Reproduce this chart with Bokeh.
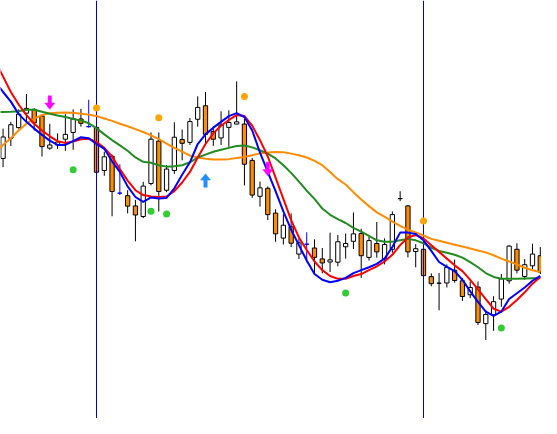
from bokeh.plotting import figure
from bokeh.models import ColumnDataSource, Range1d
from bokeh.embed import file_html
from bokeh.resources import INLINE

# ---- data ----
open_ = [270, 291, 302, 317, 321, 314, 280.7, 284, 290, 297,
         311, 303, 302.3, 257.5, 272.3, 234, 231.3, 220.7, 209.7, 244,
         288, 237, 257.5, 289.7, 286.7, 310.7, 324.7, 298, 291.3, 302.3,
         305.7, 305.7, 268, 230.7, 239, 213.3, 187.3, 199, 170.7, 181,
         177, 165.7, 162.5, 162.3, 178.3, 184, 192, 167.3, 181.7, 165.7,
         175.7, 228.3, 220.7, 173.3, 175.7, 147.3, 140.5, 140.7, 154, 143,
         128.5, 136.5, 98.5, 107.5, 124, 143, 175.7, 147.5, 158.5, 169]
high = [301, 308, 321, 337, 322, 316, 306, 296, 316, 321,
        321.5, 331, 306, 277, 274, 264, 237, 227, 245.7, 297,
        297, 263, 307.5, 300, 312, 334.5, 339, 303, 319, 320,
        350, 311, 270.5, 246, 241, 217.3, 212, 213, 187, 193.3,
        186, 177, 193, 190.5, 192, 214, 197, 189, 204, 187,
        215, 236, 221.5, 181, 177, 150.7, 151, 160, 165, 146,
        142, 142.3, 112.3, 127, 150, 180, 182, 165.5, 181.5, 178]
low = [261, 283, 301, 306, 299, 272, 279, 280, 278, 279,
       303, 302, 255, 252, 210, 232, 213, 184, 208, 242,
       215, 235, 254, 268, 284, 303, 284, 283, 284, 282,
       305.5, 242, 229, 220, 206, 183.5, 180.7, 178, 165.7, 162.3,
       151, 150.7, 152, 158, 166, 176, 146, 164, 167, 160,
       172, 225.7, 167.3, 157, 147, 137.3, 112.3, 136, 141, 122,
       125, 97, 81.5, 91, 116, 140, 150.7, 144, 155, 150]
close = [292.3, 305, 316, 322, 307, 282.3, 284, 287, 295, 311.3,
         306.5, 303, 255.7, 271.7, 235.7, 234, 220.5, 211.3, 241.3, 290,
         235.7, 259, 292, 285.7, 308.3, 323, 295, 290, 304.7, 307.3,
         308, 264, 232, 239.5, 211.7, 191.7, 200.7, 182, 182.3, 181,
         167.3, 161.5, 164.7, 183.5, 181.7, 191.7, 169, 184.7, 173, 180.7,
         211.7, 228.3, 173, 176.3, 148.3, 140, 140.5, 157, 143.3, 126.7,
         136, 99.7, 108, 121.3, 145, 179, 154, 159.7, 170.7, 152]
blue_bars = [11, 15, 39]
session_breaks = [12, 54]

# moving averages, bar index -1 .. 69
ma_index = list(range(-1, 70))
ma_blue = [350, 339, 329, 316, 308, 301, 294.5, 288.5, 284, 284, 288, 292, 291, 285, 280, 267,
           256, 241, 230, 225, 229.5, 228.5, 229, 239, 253, 266, 285, 295, 302, 308, 314, 317,
           313, 299, 276, 256, 236, 215, 196, 180, 164, 150, 144, 141.5, 143, 146, 151, 154,
           157, 160.5, 166, 178, 193, 193, 191.5, 185, 174, 162.5, 157.5, 153, 144, 132, 121,
           111, 106.5, 111, 124, 130, 136, 143, 148]
ma_red = [371, 355, 339, 326, 315, 306, 299, 293, 288, 286, 287.5, 290, 290.5, 287, 281, 272,
          259, 247, 237, 232, 230.5, 230, 230.5, 236, 245, 256, 271, 285, 296, 304, 310, 315,
          314, 304, 289, 272, 250, 228, 206, 188, 175, 163, 154, 148, 145, 145, 148, 150, 154,
          158, 163, 170, 180, 188, 190.5, 187, 180, 173, 166, 159, 153, 144, 134, 124, 114,
          111, 116, 123, 131, 140, 147]
ma_green = [318.3, 318.3, 318.5, 319, 320.5, 320.5, 318.5, 316.5, 314.5, 313, 311, 309.5, 306.5,
            301.5, 295, 289, 283.5, 278, 271, 266.5, 265.5, 263, 261.5, 262, 263, 266, 271, 274,
            277, 279, 281, 283, 283.5, 281.5, 278.5, 275, 270, 263, 255, 246, 236.5, 228, 218,
            211.5, 207, 203, 198, 194, 189.5, 185, 183.5, 183.5, 185, 186.5, 185, 182, 177.3,
            174, 172, 170, 167, 162.3, 157, 151, 147, 145, 145, 145, 145.3, 145.5, 145.7]
ma_orange = [276, 284, 291, 299, 306, 311.5, 315, 317, 317.5, 317.7, 317.5, 316.5, 315.5, 314,
             311.5, 309, 306, 303.5, 300.5, 297.5, 294, 290, 285.5, 281, 277, 273, 271, 269.7,
             269, 269, 269.3, 270.5, 271.5, 273.3, 275.3, 276.3, 276.7, 276.5, 275, 273.3, 271,
             267.5, 263, 256, 248.5, 243, 235, 227.3, 220.5, 214, 209.5, 204.5, 200, 196, 193.3,
             190, 186.5, 184.5, 182.5, 180.5, 178.5, 176.5, 174.5, 172.5, 169.5, 166, 163, 160,
             156.5, 154, 152]

orange_dot_idx = [12, 20, 31, 54]
orange_dot_val = [322.3, 312.3, 334.3, 205]
green_dot_idx = [9, 19, 21, 44, 64]
green_dot_val = [258.3, 215.3, 212.3, 130.3, 94]
sell_arrow_idx = [6, 34]
sell_arrow_tip = [321, 252]
buy_arrow_idx = [26]
buy_arrow_tip = [254]

# ---- figure ----
W, H = 541, 418
p = figure(width=W, height=H, output_backend="svg", toolbar_location=None,
           x_axis_type=None, y_axis_type=None,
           x_range=Range1d(-0.330, 69.156), y_range=Range1d(0, 434),
           min_border=0, background_fill_color="white", border_fill_color="white")
p.grid.visible = False
p.outline_line_color = None

idx = list(range(len(open_)))
wick_col = ["#0000FF" if i in blue_bars else "black" for i in idx]
fill_col = []
for o, c in zip(open_, close):
    if c > o:
        fill_col.append("white")
    elif c < o:
        fill_col.append("#FF8C00")
    else:
        fill_col.append(None)
body_top = [max(o, c) for o, c in zip(open_, close)]
body_bot = [min(o, c) for o, c in zip(open_, close)]

src = ColumnDataSource(dict(x=idx, high=high, low=low, top=body_top, bottom=body_bot,
                            wick=wick_col, fill=fill_col))

# candles
p.segment(x0="x", y0="low", x1="x", y1="high", source=src, line_color="wick", line_width=1)
p.vbar(x="x", width=0.55, top="top", bottom="bottom", source=src,
       fill_color="fill", line_color="wick", line_width=1)

# session separators
p.segment(x0=session_breaks, y0=[0] * len(session_breaks), x1=session_breaks,
          y1=[434] * len(session_breaks), line_color="#0000C8", line_width=1)

# moving averages
p.line(ma_index, ma_orange, line_color="#FF8C00", line_width=2)
p.line(ma_index, ma_green, line_color="#228B22", line_width=2)
p.line(ma_index, ma_red, line_color="#FF0000", line_width=2)
p.line(ma_index, ma_blue, line_color="#0000FF", line_width=2)

# dots
p.scatter(orange_dot_idx, orange_dot_val, size=7, fill_color="#FFA500", line_color=None)
p.scatter(green_dot_idx, green_dot_val, size=7, fill_color="#32CD32", line_color=None)

# arrows (shape built around each signal's bar index and tip level)
def arrow_shape(i, t, d):
    xs = [i - 0.22, i + 0.22, i + 0.22, i + 0.64, i, i - 0.64, i - 0.22]
    ys = [t + d * 14, t + d * 14, t + d * 6.5, t + d * 6.5, t, t + d * 6.5, t + d * 6.5]
    return xs, ys

sx, sy = zip(*[arrow_shape(i, t, 1) for i, t in zip(sell_arrow_idx, sell_arrow_tip)])
p.patches(list(sx), list(sy), fill_color="#FF00FF", line_color="#FF00FF", line_width=0.5)
bx, by = zip(*[arrow_shape(i, t, -1) for i, t in zip(buy_arrow_idx, buy_arrow_tip)])
p.patches(list(bx), list(by), fill_color="#1E90FF", line_color="#1E90FF", line_width=0.5)

open("out.html", "w").write(file_html(p, INLINE))
